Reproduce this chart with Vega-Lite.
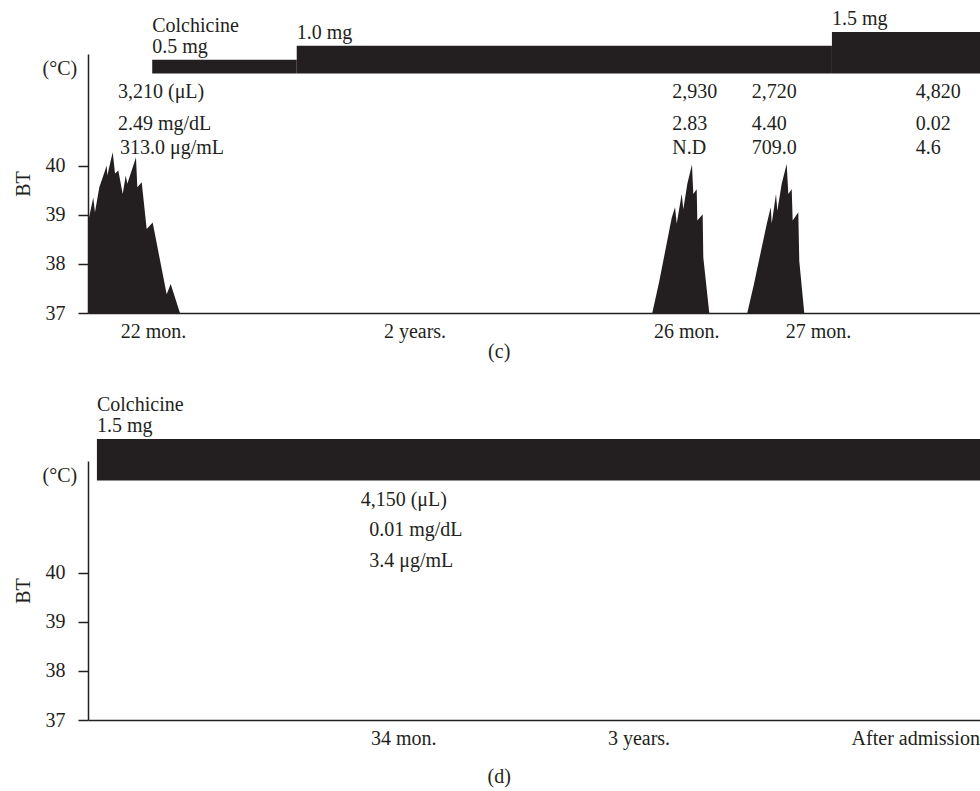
{
  "$schema": "https://vega.github.io/schema/vega-lite/v6.json",
  "background": "white",
  "padding": {"left": 13, "top": 9, "right": 0, "bottom": 0},
  "spacing": 32,
  "config": {
    "font": "Liberation Serif",
    "view": {"stroke": null},
    "text": {"fontSize": 20, "color": "#231f20", "font": "Liberation Serif"},
    "axis": {"labelFontSize": 20, "titleFontSize": 20, "titleFontWeight": "normal", "labelColor": "#231f20", "titleColor": "#231f20", "domainColor": "#231f20", "tickColor": "#231f20", "grid": false}
  },
  "datasets": {
    "fever": [
      {"panel": "c", "episode": 1, "t": 0, "bt": 38.84},
      {"panel": "c", "episode": 1, "t": 0.59, "bt": 39.35},
      {"panel": "c", "episode": 1, "t": 0.78, "bt": 39.05},
      {"panel": "c", "episode": 1, "t": 1.27, "bt": 39.56},
      {"panel": "c", "episode": 1, "t": 2.10, "bt": 40.0},
      {"panel": "c", "episode": 1, "t": 2.16, "bt": 39.8},
      {"panel": "c", "episode": 1, "t": 2.77, "bt": 40.27},
      {"panel": "c", "episode": 1, "t": 3.03, "bt": 39.84},
      {"panel": "c", "episode": 1, "t": 3.40, "bt": 39.9},
      {"panel": "c", "episode": 1, "t": 3.89, "bt": 39.42},
      {"panel": "c", "episode": 1, "t": 4.23, "bt": 39.8},
      {"panel": "c", "episode": 1, "t": 4.41, "bt": 39.63},
      {"panel": "c", "episode": 1, "t": 5.38, "bt": 40.17},
      {"panel": "c", "episode": 1, "t": 5.53, "bt": 39.56},
      {"panel": "c", "episode": 1, "t": 6.02, "bt": 39.66},
      {"panel": "c", "episode": 1, "t": 6.58, "bt": 38.71},
      {"panel": "c", "episode": 1, "t": 7.25, "bt": 38.84},
      {"panel": "c", "episode": 1, "t": 8.82, "bt": 37.38},
      {"panel": "c", "episode": 1, "t": 9.27, "bt": 37.59},
      {"panel": "c", "episode": 1, "t": 10.31, "bt": 37.0},
      {"panel": "c", "episode": 2, "t": 63.26, "bt": 37.0},
      {"panel": "c", "episode": 2, "t": 64.05, "bt": 37.65},
      {"panel": "c", "episode": 2, "t": 65.44, "bt": 38.94},
      {"panel": "c", "episode": 2, "t": 65.81, "bt": 39.15},
      {"panel": "c", "episode": 2, "t": 66.0, "bt": 38.82},
      {"panel": "c", "episode": 2, "t": 66.56, "bt": 39.42},
      {"panel": "c", "episode": 2, "t": 66.74, "bt": 39.11},
      {"panel": "c", "episode": 2, "t": 67.19, "bt": 39.63},
      {"panel": "c", "episode": 2, "t": 67.71, "bt": 40.02},
      {"panel": "c", "episode": 2, "t": 67.86, "bt": 39.42},
      {"panel": "c", "episode": 2, "t": 68.24, "bt": 39.52},
      {"panel": "c", "episode": 2, "t": 68.31, "bt": 38.88},
      {"panel": "c", "episode": 2, "t": 68.91, "bt": 39.01},
      {"panel": "c", "episode": 2, "t": 68.98, "bt": 38.13},
      {"panel": "c", "episode": 2, "t": 69.65, "bt": 37.0},
      {"panel": "c", "episode": 3, "t": 73.91, "bt": 37.0},
      {"panel": "c", "episode": 3, "t": 74.66, "bt": 37.59},
      {"panel": "c", "episode": 3, "t": 76.09, "bt": 38.81},
      {"panel": "c", "episode": 3, "t": 76.54, "bt": 39.15},
      {"panel": "c", "episode": 3, "t": 76.65, "bt": 38.82},
      {"panel": "c", "episode": 3, "t": 77.13, "bt": 39.42},
      {"panel": "c", "episode": 3, "t": 77.28, "bt": 39.08},
      {"panel": "c", "episode": 3, "t": 77.77, "bt": 39.63},
      {"panel": "c", "episode": 3, "t": 78.33, "bt": 40.03},
      {"panel": "c", "episode": 3, "t": 78.51, "bt": 39.42},
      {"panel": "c", "episode": 3, "t": 78.89, "bt": 39.52},
      {"panel": "c", "episode": 3, "t": 79.0, "bt": 38.88},
      {"panel": "c", "episode": 3, "t": 79.63, "bt": 39.05},
      {"panel": "c", "episode": 3, "t": 79.74, "bt": 38.06},
      {"panel": "c", "episode": 3, "t": 80.30, "bt": 37.0}
    ],
    "doses": [
      {"panel": "c", "start": 7.2, "end": 23.4, "dose": 0.5, "label": "0.5 mg", "drug": "Colchicine"},
      {"panel": "c", "start": 23.4, "end": 83.4, "dose": 1.0, "label": "1.0 mg", "drug": null},
      {"panel": "c", "start": 83.4, "end": 100, "dose": 1.5, "label": "1.5 mg", "drug": null},
      {"panel": "d", "start": 1.0, "end": 100, "dose": 1.5, "label": "1.5 mg", "drug": "Colchicine"}
    ],
    "labs": [
      {"panel": "c", "row": "wbc", "t": 3.36, "text": "3,210 (μL)"},
      {"panel": "c", "row": "crp", "t": 3.36, "text": "2.49 mg/dL"},
      {"panel": "c", "row": "saa", "t": 3.59, "text": "313.0 μg/mL"},
      {"panel": "c", "row": "wbc", "t": 65.5, "text": "2,930"},
      {"panel": "c", "row": "crp", "t": 65.5, "text": "2.83"},
      {"panel": "c", "row": "saa", "t": 65.5, "text": "N.D"},
      {"panel": "c", "row": "wbc", "t": 74.4, "text": "2,720"},
      {"panel": "c", "row": "crp", "t": 74.4, "text": "4.40"},
      {"panel": "c", "row": "saa", "t": 74.4, "text": "709.0"},
      {"panel": "c", "row": "wbc", "t": 92.8, "text": "4,820"},
      {"panel": "c", "row": "crp", "t": 92.8, "text": "0.02"},
      {"panel": "c", "row": "saa", "t": 92.8, "text": "4.6"},
      {"panel": "d", "row": "wbc", "t": 30.57, "text": "4,150 (μL)"},
      {"panel": "d", "row": "crp", "t": 31.53, "text": "0.01 mg/dL"},
      {"panel": "d", "row": "saa", "t": 31.53, "text": "3.4 μg/mL"}
    ],
    "xlabels": [
      {"panel": "c", "t": 7.34, "text": "22 mon."},
      {"panel": "c", "t": 36.66, "text": "2 years."},
      {"panel": "c", "t": 67.12, "text": "26 mon."},
      {"panel": "c", "t": 81.9, "text": "27 mon."},
      {"panel": "d", "t": 35.39, "text": "34 mon."},
      {"panel": "d", "t": 61.77, "text": "3 years."},
      {"panel": "d", "t": 92.8, "text": "After admission"}
    ],
    "notes": [
      {"panel": "c", "kind": "unit", "t": -1.2, "text": "(°C)"},
      {"panel": "c", "kind": "caption", "t": 46.1, "text": "(c)"},
      {"panel": "d", "kind": "unit", "t": -1.2, "text": "(°C)"},
      {"panel": "d", "kind": "caption", "t": 46.1, "text": "(d)"}
    ]
  },
  "vconcat": [
    {
      "width": 892,
      "height": 259,
      "layer": [
        {
          "layer": [
            {
              "data": {"name": "fever"},
              "transform": [{"filter": "datum.panel == 'c'"}],
              "mark": {"type": "area", "color": "#231f20", "interpolate": "linear"},
              "encoding": {
                "x": {"field": "t", "type": "quantitative", "scale": {"domain": [0, 100], "nice": false, "zero": false}, "axis": {"labels": false, "ticks": false, "title": null, "domainWidth": 1.5}},
                "y": {"field": "bt", "type": "quantitative", "stack": null, "scale": {"domain": [37, 42.27], "nice": false, "zero": false}, "axis": {"values": [37, 38, 39, 40], "title": "BT", "tickSize": 10, "labelPadding": 13, "titlePadding": 12, "domainWidth": 1.5, "tickWidth": 1.5}},
                "y2": {"datum": 37},
                "detail": {"field": "episode", "type": "nominal"}
              }
            },
            {
              "data": {"name": "labs"},
              "transform": [{"filter": "datum.panel == 'c' && datum.row == 'wbc'"}],
              "mark": {"type": "text", "align": "left", "baseline": "alphabetic"},
              "encoding": {"x": {"field": "t", "type": "quantitative"}, "y": {"datum": 41.37}, "text": {"field": "text"}}
            },
            {
              "data": {"name": "labs"},
              "transform": [{"filter": "datum.panel == 'c' && datum.row == 'crp'"}],
              "mark": {"type": "text", "align": "left", "baseline": "alphabetic"},
              "encoding": {"x": {"field": "t", "type": "quantitative"}, "y": {"datum": 40.73}, "text": {"field": "text"}}
            },
            {
              "data": {"name": "labs"},
              "transform": [{"filter": "datum.panel == 'c' && datum.row == 'saa'"}],
              "mark": {"type": "text", "align": "left", "baseline": "alphabetic"},
              "encoding": {"x": {"field": "t", "type": "quantitative"}, "y": {"datum": 40.24}, "text": {"field": "text"}}
            },
            {
              "data": {"name": "xlabels"},
              "transform": [{"filter": "datum.panel == 'c'"}],
              "mark": {"type": "text", "align": "center", "baseline": "alphabetic"},
              "encoding": {"x": {"field": "t", "type": "quantitative"}, "y": {"datum": 36.5}, "text": {"field": "text"}}
            },
            {
              "data": {"name": "notes"},
              "transform": [{"filter": "datum.panel == 'c' && datum.kind == 'unit'"}],
              "mark": {"type": "text", "align": "right", "baseline": "alphabetic"},
              "encoding": {"x": {"field": "t", "type": "quantitative"}, "y": {"datum": 41.85}, "text": {"field": "text"}}
            },
            {
              "data": {"name": "notes"},
              "transform": [{"filter": "datum.panel == 'c' && datum.kind == 'caption'"}],
              "mark": {"type": "text", "align": "center", "baseline": "alphabetic"},
              "encoding": {"x": {"field": "t", "type": "quantitative"}, "y": {"datum": 36.08}, "text": {"field": "text"}}
            }
          ]
        },
        {
          "data": {"name": "doses"},
          "transform": [{"filter": "datum.panel == 'c'"}],
          "encoding": {
            "x": {"field": "start", "type": "quantitative", "scale": {"domain": [0, 100], "nice": false, "zero": false}, "axis": {"labels": false, "ticks": false, "title": null, "domainWidth": 1.5}},
            "y": {"field": "dose", "type": "quantitative", "scale": {"domain": [-8.655, 0.705], "nice": false, "zero": false}, "axis": null}
          },
          "layer": [
            {"mark": {"type": "rect", "color": "#231f20"}, "encoding": {"x2": {"field": "end"}, "y2": {"datum": 0}}},
            {"mark": {"type": "text", "align": "left", "baseline": "alphabetic", "dy": -7}, "encoding": {"text": {"field": "label"}}},
            {"transform": [{"filter": "datum.drug != null"}], "mark": {"type": "text", "align": "left", "baseline": "alphabetic", "dy": -28}, "encoding": {"text": {"field": "drug"}}}
          ]
        }
      ],
      "resolve": {"scale": {"y": "independent"}}
    },
    {
      "width": 892,
      "height": 259,
      "layer": [
        {
          "layer": [
            {
              "data": {"name": "xlabels"},
              "transform": [{"filter": "datum.panel == 'd'"}],
              "mark": {"type": "text", "align": "center", "baseline": "alphabetic"},
              "encoding": {
                "x": {"field": "t", "type": "quantitative", "scale": {"domain": [0, 100], "nice": false, "zero": false}, "axis": {"labels": false, "ticks": false, "title": null, "domainWidth": 1.5}},
                "y": {"datum": 36.5, "type": "quantitative", "scale": {"domain": [37, 42.27], "nice": false, "zero": false}, "axis": {"values": [37, 38, 39, 40], "title": "BT", "tickSize": 10, "labelPadding": 13, "titlePadding": 12, "domainWidth": 1.5, "tickWidth": 1.5}},
                "text": {"field": "text"}
              }
            },
            {
              "data": {"name": "labs"},
              "transform": [{"filter": "datum.panel == 'd' && datum.row == 'wbc'"}],
              "mark": {"type": "text", "align": "left", "baseline": "alphabetic"},
              "encoding": {"x": {"field": "t", "type": "quantitative"}, "y": {"datum": 41.355}, "text": {"field": "text"}}
            },
            {
              "data": {"name": "labs"},
              "transform": [{"filter": "datum.panel == 'd' && datum.row == 'crp'"}],
              "mark": {"type": "text", "align": "left", "baseline": "alphabetic"},
              "encoding": {"x": {"field": "t", "type": "quantitative"}, "y": {"datum": 40.741}, "text": {"field": "text"}}
            },
            {
              "data": {"name": "labs"},
              "transform": [{"filter": "datum.panel == 'd' && datum.row == 'saa'"}],
              "mark": {"type": "text", "align": "left", "baseline": "alphabetic"},
              "encoding": {"x": {"field": "t", "type": "quantitative"}, "y": {"datum": 40.108}, "text": {"field": "text"}}
            },
            {
              "data": {"name": "notes"},
              "transform": [{"filter": "datum.panel == 'd' && datum.kind == 'unit'"}],
              "mark": {"type": "text", "align": "right", "baseline": "alphabetic"},
              "encoding": {"x": {"field": "t", "type": "quantitative"}, "y": {"datum": 41.85}, "text": {"field": "text"}}
            },
            {
              "data": {"name": "notes"},
              "transform": [{"filter": "datum.panel == 'd' && datum.kind == 'caption'"}],
              "mark": {"type": "text", "align": "center", "baseline": "alphabetic"},
              "encoding": {"x": {"field": "t", "type": "quantitative"}, "y": {"datum": 35.71}, "text": {"field": "text"}}
            }
          ]
        },
        {
          "data": {"name": "doses"},
          "transform": [{"filter": "datum.panel == 'd'"}],
          "encoding": {
            "x": {"field": "start", "type": "quantitative", "scale": {"domain": [0, 100], "nice": false, "zero": false}, "axis": {"labels": false, "ticks": false, "title": null, "domainWidth": 1.5}},
            "y": {"field": "dose", "type": "quantitative", "scale": {"domain": [-8.655, 0.705], "nice": false, "zero": false}, "axis": null}
          },
          "layer": [
            {"mark": {"type": "rect", "color": "#231f20"}, "encoding": {"x2": {"field": "end"}, "y2": {"datum": 0}}},
            {"mark": {"type": "text", "align": "left", "baseline": "alphabetic", "dy": -7}, "encoding": {"text": {"field": "label"}}},
            {"transform": [{"filter": "datum.drug != null"}], "mark": {"type": "text", "align": "left", "baseline": "alphabetic", "dy": -28}, "encoding": {"text": {"field": "drug"}}}
          ]
        }
      ],
      "resolve": {"scale": {"y": "independent"}}
    }
  ]
}
